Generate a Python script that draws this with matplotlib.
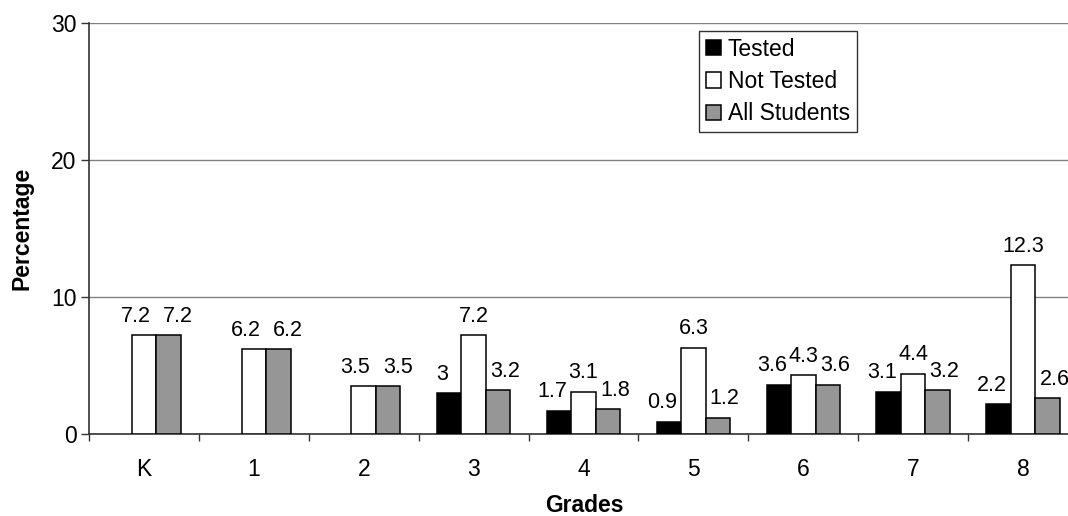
import numpy as np
import matplotlib
matplotlib.use("Agg")
import matplotlib.pyplot as plt

plt.rcParams['font.family'] = ['Liberation Sans', 'DejaVu Sans']

grades = ['K', '1', '2', '3', '4', '5', '6', '7', '8']
tested = [np.nan, np.nan, np.nan, 3.0, 1.7, 0.9, 3.6, 3.1, 2.2]
not_tested = [7.2, 6.2, 3.5, 7.2, 3.1, 6.3, 4.3, 4.4, 12.3]
all_students = [7.2, 6.2, 3.5, 3.2, 1.8, 1.2, 3.6, 3.2, 2.6]
yticks = [0, 10, 20, 30]

W, H = 1068, 516
fig = plt.figure(figsize=(W / 100, H / 100), dpi=100)
ax = fig.add_axes([89 / W, 1 - 434 / H, 989 / W, 411 / H])

x = np.arange(len(grades))
bw = 0.2227
series = [
    (tested, '#000000', 'Tested', -bw),
    (not_tested, '#ffffff', 'Not Tested', 0),
    (all_students, '#969696', 'All Students', bw),
]

for k, (vals, col, name, off) in enumerate(series):
    ax.bar(x + off, vals, bw, color=col, edgecolor='black', linewidth=1.1,
           label=name, zorder=3)
    for i, v in enumerate(vals):
        if np.isnan(v):
            continue
        # push side labels outward so neighbours do not collide
        dx = [-5, 0, 5][k]
        if np.isnan(tested[i]):
            dx = -6 if k == 1 else 7
        ax.annotate('%g' % v, (x[i] + off, v), xytext=(dx, 6),
                    textcoords='offset points', ha='center', va='bottom',
                    fontsize=15.5)

ax.set_xlim(-0.5, len(grades) - 0.5)
ax.set_ylim(0, 30)
ax.set_yticks(yticks)
ax.tick_params(axis='y', length=6, width=1, color='#333333', labelsize=16.5, pad=3)

# ticks on category boundaries, labels at centers
ax.set_xticks(np.arange(-0.5, len(grades), 1.0))
ax.set_xticklabels([])
ax.tick_params(axis='x', which='major', length=5, width=1, color='#333333')
ax.set_xticks(x, minor=True)
ax.set_xticklabels(grades, minor=True)
ax.tick_params(axis='x', which='minor', length=0, labelsize=16.5, pad=17)

ax.grid(axis='y', color='#808080', linewidth=1, zorder=0)
ax.set_axisbelow(True)
for s in ['top', 'right']:
    ax.spines[s].set_visible(False)
for s in ['left', 'bottom']:
    ax.spines[s].set_color('#333333')
    ax.spines[s].set_linewidth(1.2)

fig.text(22 / W, 1 - 228.5 / H, 'Percentage', rotation=90, ha='center',
         va='center', fontsize=16.5, fontweight='bold')
fig.text(584 / W, 1 - 512 / H, 'Grades', ha='center', va='baseline',
         fontsize=16.5, fontweight='bold')

leg = fig.legend(loc='upper left', bbox_to_anchor=(699 / W, 1 - 31 / H),
                 fontsize=16.5, frameon=True, fancybox=False, borderaxespad=0,
                 handlelength=0.65, handleheight=0.65, handletextpad=0.3,
                 labelspacing=0.4, borderpad=0.3)
leg.get_frame().set_edgecolor('black')
leg.get_frame().set_linewidth(1)

fig.savefig('out.png', dpi=100)
